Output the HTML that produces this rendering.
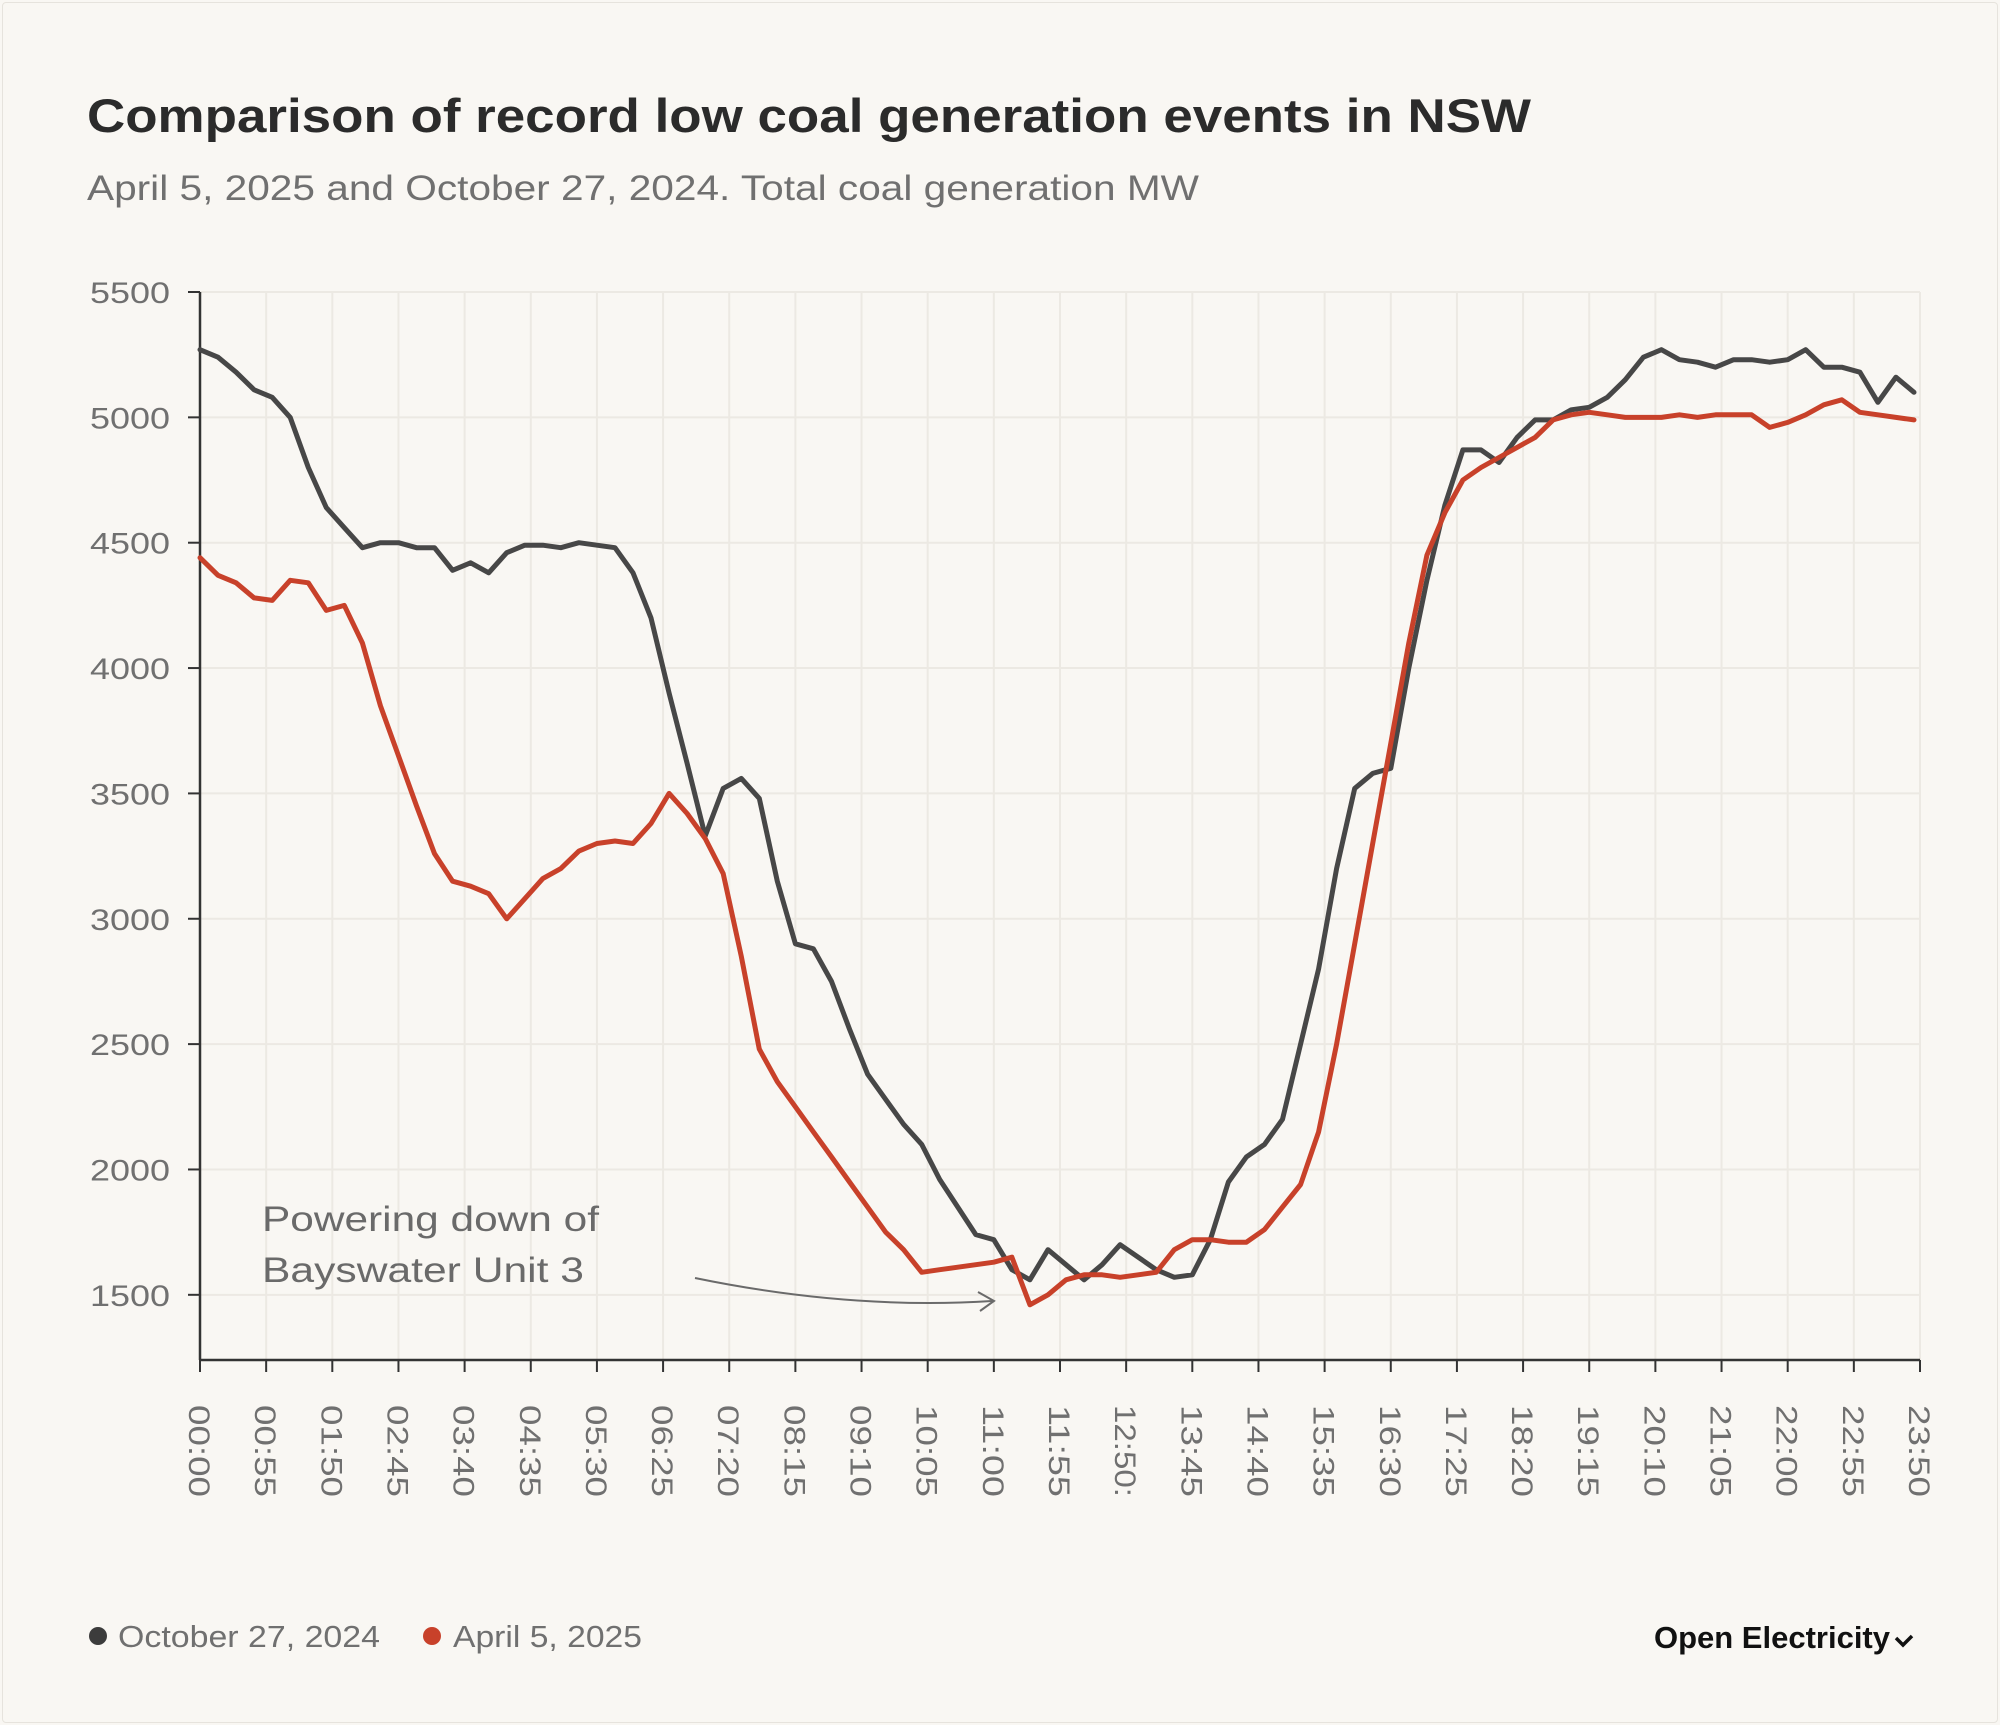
<!DOCTYPE html>
<html><head><meta charset="utf-8">
<style>
html,body{margin:0;padding:0;background:#f9f7f3;}
body{width:2000px;height:1725px;overflow:hidden;font-family:"Liberation Sans",sans-serif;}
#frame{position:absolute;left:2px;top:2px;width:1994px;height:1719px;border:1px solid #e6e3dd;border-radius:4px;}
</style></head>
<body>
<div id="frame"></div>
<svg id="chart" width="2000" height="1725" style="position:absolute;left:0;top:0">
<text x="87" y="132" font-size="47" font-weight="bold" fill="#2b2b2b" textLength="1444" lengthAdjust="spacingAndGlyphs">Comparison of record low coal generation events in NSW</text>
<text x="87" y="200" font-size="35" fill="#707070" textLength="1112" lengthAdjust="spacingAndGlyphs">April 5, 2025 and October 27, 2024. Total coal generation MW</text>
<g id="grid"></g>
<g id="axes"></g>
<g id="series"></g>
<text x="262" y="1231" font-size="35" fill="#6a6a6a" textLength="337" lengthAdjust="spacingAndGlyphs">Powering down of</text>
<text x="262" y="1282" font-size="35" fill="#6a6a6a" textLength="322" lengthAdjust="spacingAndGlyphs">Bayswater Unit 3</text>
<path d="M695 1278 Q850 1310 992 1301" fill="none" stroke="#6a6a6a" stroke-width="2"/>
<path d="M978 1292 L994 1301 L980 1311" fill="none" stroke="#6a6a6a" stroke-width="2"/>
<g>
<circle cx="98" cy="1636" r="9" fill="#3c3c3c"/>
<text x="118" y="1647" font-size="31" fill="#707070" textLength="262" lengthAdjust="spacingAndGlyphs">October 27, 2024</text>
<circle cx="432" cy="1636" r="9" fill="#c8412a"/>
<text x="453" y="1647" font-size="31" fill="#707070" textLength="189" lengthAdjust="spacingAndGlyphs">April 5, 2025</text>
</g>
<text x="1890" y="1648" font-size="31" font-weight="bold" fill="#111" text-anchor="end">Open Electricity</text>
<path d="M1896 1638 L1903 1645 L1912 1636" fill="none" stroke="#111" stroke-width="3.5"/>
</svg>
<script>
const tickLabels = ["00:00","00:55","01:50","02:45","03:40","04:35","05:30","06:25","07:20","08:15","09:10","10:05","11:00","11:55","12:50:","13:45","14:40","15:35","16:30","17:25","18:20","19:15","20:10","21:05","22:00","22:55","23:50"];
const yTicks = [1500,2000,2500,3000,3500,4000,4500,5000,5500];
const stepMinutes = 15;
const oct2024 = [5270,5240,5180,5110,5080,5000,4800,4640,4560,4480,4500,4500,4480,4480,4390,4420,4380,4460,4490,4490,4480,4500,4490,4480,4380,4200,3900,3620,3330,3520,3560,3480,3150,2900,2880,2750,2560,2380,2280,2180,2100,1960,1850,1740,1720,1600,1560,1680,1620,1560,1620,1700,1650,1600,1570,1580,1720,1950,2050,2100,2200,2500,2800,3200,3520,3580,3600,4000,4350,4650,4870,4870,4820,4920,4990,4990,5030,5040,5080,5150,5240,5270,5230,5220,5200,5230,5230,5220,5230,5270,5200,5200,5180,5060,5160,5100];
const apr2025 = [4440,4370,4340,4280,4270,4350,4340,4230,4250,4100,3850,3650,3450,3260,3150,3130,3100,3000,3080,3160,3200,3270,3300,3310,3300,3380,3500,3420,3320,3180,2850,2480,2350,2250,2150,2050,1950,1850,1750,1680,1590,1600,1610,1620,1630,1650,1460,1500,1560,1580,1580,1570,1580,1590,1680,1720,1720,1710,1710,1760,1850,1940,2150,2500,2900,3300,3700,4100,4450,4620,4750,4800,4840,4880,4920,4990,5010,5020,5010,5000,5000,5000,5010,5000,5010,5010,5010,4960,4980,5010,5050,5070,5020,5010,5000,4990];

const X0=200, X1=1920, Y0=1360, Y1=292, yMin=1240, yMax=5500, tMax=1430;
const xs = m => X0 + (m/tMax)*(X1-X0);
const ys = v => Y0 - (v-yMin)/(yMax-yMin)*(Y0-Y1);
const NS="http://www.w3.org/2000/svg";
function mk(tag, attrs){const e=document.createElementNS(NS,tag);for(const k in attrs)e.setAttribute(k,attrs[k]);return e;}
const grid=document.getElementById('grid'), axes=document.getElementById('axes'), series=document.getElementById('series');

yTicks.forEach(v=>{
  const l=mk('line',{x1:X0,x2:X1,y1:ys(v),y2:ys(v),stroke:'#ece9e3','stroke-width':2});
  
  
  grid.appendChild(l);
  const tk=mk('line',{x1:X0-12,x2:X0,y1:ys(v),y2:ys(v),stroke:'#333','stroke-width':2});
  
  
  axes.appendChild(tk);
  const t=mk('text',{x:170,y:ys(v)+11,'font-size':30,fill:'#707070','text-anchor':'end',textLength:80,lengthAdjust:'spacingAndGlyphs'});
  t.textContent=v;
  
  
  axes.appendChild(t);
});
tickLabels.forEach((lab,i)=>{
  const x=xs(i*55);
  const l=mk('line',{x1:x,x2:x,y1:Y1,y2:Y0,stroke:'#ece9e3','stroke-width':2});
  
  
  grid.appendChild(l);
  const tk=mk('line',{x1:x,x2:x,y1:Y0,y2:Y0+12,stroke:'#333','stroke-width':2});
  
  
  axes.appendChild(tk);
  const t=mk('text',{x:0,y:0,'font-size':30,fill:'#707070',transform:`translate(${x-11},1405) rotate(90)`,textLength:92,lengthAdjust:'spacingAndGlyphs'});
  t.textContent=lab;
  
  
  axes.appendChild(t);
});
const ya=mk('line',{x1:X0,x2:X0,y1:Y1,y2:Y0,stroke:'#333','stroke-width':2.5});


axes.appendChild(ya);
const xa=mk('line',{x1:X0,x2:X1,y1:Y0,y2:Y0,stroke:'#333','stroke-width':2.5});


axes.appendChild(xa);

function drawLine(vals,color,name){
  const d=vals.map((v,i)=>(i?'L':'M')+xs(i*stepMinutes).toFixed(1)+' '+ys(v).toFixed(1)).join(' ');
  const p=mk('path',{d:d,fill:'none',stroke:color,'stroke-width':5,'stroke-linejoin':'round','stroke-linecap':'round'});
  
  
  series.appendChild(p);
}
drawLine(oct2024,'#474747','line-oct-2024');
drawLine(apr2025,'#c8412a','line-apr-2025');
</script>
</body></html>
